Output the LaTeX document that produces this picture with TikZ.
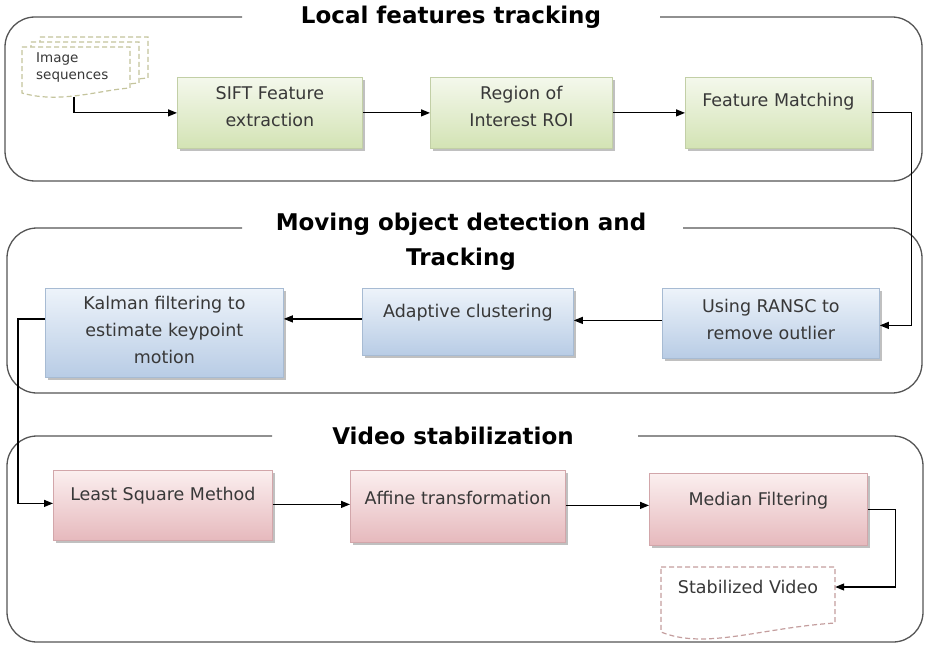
\documentclass[tikz,border=0pt]{standalone}
\usepackage{fontspec}
\setmainfont{DejaVu Sans}
\usetikzlibrary{shadows,calc,arrows.meta}
\definecolor{panelc}{HTML}{555555}
\definecolor{gtop}{HTML}{F4F8EC}
\definecolor{gbot}{HTML}{D3E3B4}
\definecolor{gdraw}{HTML}{C2CFA6}
\definecolor{btop}{HTML}{EDF3FA}
\definecolor{bbot}{HTML}{B8CCE5}
\definecolor{bdraw}{HTML}{A7BBD3}
\definecolor{rtop}{HTML}{FBEFEF}
\definecolor{rbot}{HTML}{E6B9BD}
\definecolor{rdraw}{HTML}{D2A6AA}
\definecolor{txtc}{HTML}{383838}
\definecolor{docg}{HTML}{C4C49C}
\definecolor{docr}{HTML}{C49E9E}
\tikzset{
  panel/.style={draw=panelc, line width=1.3pt, rounded corners=30pt},
  ptitle/.style={font=\bfseries\fontsize{23}{35}\selectfont, align=center, text=black},
  box/.style={rectangle, line width=0.8pt, anchor=north west, inner sep=0pt,
     drop shadow={shadow xshift=2.5pt, shadow yshift=-2.5pt, opacity=0.45, fill=black!55}},
  gbox/.style={box, draw=gdraw, top color=gtop, bottom color=gbot},
  bbox/.style={box, draw=bdraw, top color=btop, bottom color=bbot},
  rbox/.style={box, draw=rdraw, top color=rtop, bottom color=rbot},
  btext/.style={font=\fontsize{17.5}{27}\selectfont, align=center, text=txtc, inner sep=0pt},
  conn/.style={draw=black, line width=1.2pt, -{Triangle[length=9pt,width=7pt]}},
  docg/.style={draw=docg, fill=white, line width=1.2pt, dash pattern=on 5pt off 3pt},
  docr/.style={draw=docr, fill=white, line width=1.2pt, dash pattern=on 5pt off 3pt},
}
\begin{document}
\begin{tikzpicture}[x=1pt,y=-1pt]
\useasboundingbox (0,0) rectangle (926,650);

% panels
\draw[panel] (242,17) -- (5,17) -- (5,181) -- (922,181) -- (922,17) -- (660,17);
\draw[panel] (242,228) -- (7,228) -- (7,393) -- (922,393) -- (922,228) -- (683,228);
\draw[panel] (272,436) -- (7,436) -- (7,642) -- (923,642) -- (923,436) -- (638,436);

\node[ptitle] (t1) at (451,17) {Local features tracking};
\node[ptitle] (t2) at (461,242) {Moving object detection and\\Tracking};
\node[ptitle] (t3) at (453,436) {Video stabilization};

% image sequences (stacked documents)
\draw[docg] (40,37) -- (148,37) -- (148,78) .. controls (118,80) and (78,94) .. (40,83) -- cycle;
\draw[docg] (31,42) -- (139,42) -- (139,83) .. controls (109,85) and (69,99) .. (31,88) -- cycle;
\draw[docg] (22,47) -- (130,47) -- (130,88) .. controls (100,90) and (60,104) .. (22,93) -- cycle;
\node[font=\fontsize{13.5}{17}\selectfont, align=left, text=txtc, anchor=north west, inner sep=0pt] (imgt) at (36,52) {Image\\sequences};
\coordinate (imgb) at (74,97);

% stabilized video document
\draw[docr] (661,567) -- (835,567) -- (835,623) .. controls (760,628) and (705,650) .. (661,632) -- cycle;
\node[btext, minimum width=174pt, minimum height=20pt] (stab) at (748,587) {Stabilized Video};

% green boxes
\node[gbox, minimum width=185pt, minimum height=71pt] (sift) at (177,77) {};
\node[btext] (siftt) at ($(sift.center)+(0,-6)$) {SIFT Feature\\extraction};
\node[gbox, minimum width=182pt, minimum height=71pt] (roi) at (430,77) {};
\node[btext] (roit) at ($(roi.center)+(0,-6)$) {Region of\\Interest ROI};
\node[gbox, minimum width=186pt, minimum height=71pt] (fm) at (685,77) {};
\node[btext] (fmt) at ($(fm.center)+(0,-11)$) {Feature Matching};

% blue boxes
\node[bbox, minimum width=217pt, minimum height=70pt] (ransc) at (662,288) {};
\node[btext] (ransct) at ($(ransc.center)+(0,-4)$) {Using RANSC to\\remove outlier};
\node[bbox, minimum width=211pt, minimum height=67pt] (adapt) at (362,288) {};
\node[btext] (adaptt) at ($(adapt.center)+(0,-9)$) {Adaptive clustering};
\node[bbox, minimum width=238pt, minimum height=89pt] (kalman) at (45,288) {};
\node[btext] (kalmant) at ($(kalman.center)+(0,-3)$) {Kalman filtering to\\estimate keypoint\\motion};

% red boxes
\node[rbox, minimum width=219pt, minimum height=70pt] (least) at (53,470) {};
\node[btext] (leastt) at ($(least.center)+(0,-10)$) {Least Square Method};
\node[rbox, minimum width=215pt, minimum height=72pt] (affine) at (350,470) {};
\node[btext] (affinet) at ($(affine.center)+(0,-8)$) {Affine transformation};
\node[rbox, minimum width=218pt, minimum height=72pt] (median) at (649,473) {};
\node[btext] (mediant) at ($(median.center)+(0,-9)$) {Median Filtering};

% connector helper points
\coordinate (rw) at ($(ransc.west)+(0,-3)$);
\coordinate (aw) at ($(adapt.west)+(0,-3)$);
\coordinate (kw) at ($(kalman.west)+(0,-14)$);
\coordinate (lw) at ($(least.west)+(0,-2)$);
\coordinate (le) at ($(least.east)+(0,-1)$);
\coordinate (ae) at ($(affine.east)+(0,-1)$);
\coordinate (re) at ($(ransc.east)+(0,2)$);

% connectors
\draw[conn] (imgb) |- (sift.west);
\draw[conn] (sift.east) -- (sift.east -| roi.west);
\draw[conn] (roi.east) -- (roi.east -| fm.west);
\draw[conn] (fm.east) -- ++(40,0) |- (re);
\draw[conn] (rw) -- (rw -| adapt.east);
\draw[conn] (aw) -- (aw -| kalman.east);
\draw[conn] (kw) -- ++(-27,0) |- (lw);
\draw[conn] (le) -- (le -| affine.west);
\draw[conn] (ae) -- (ae -| median.west);
\draw[conn] (median.east) -- ++(28,0) |- (stab.east);
\end{tikzpicture}
\end{document}
